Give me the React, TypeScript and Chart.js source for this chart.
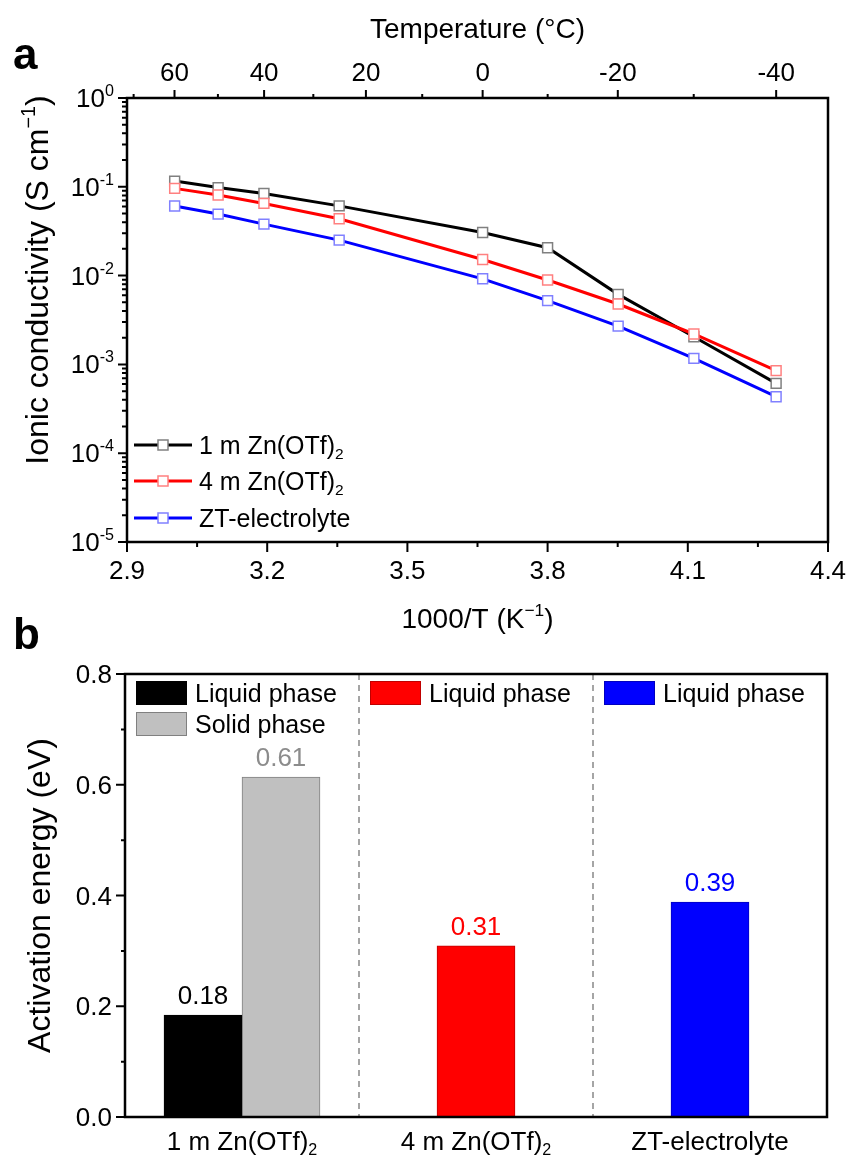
import React, { useEffect, useRef } from "react";
import { Chart, registerables } from "chart.js";
Chart.register(...registerables);

const FONT = '"Liberation Sans", Arial, sans-serif';
const SX = 1; // horizontal text stretch

// ---------- Panel a data ----------
const invT = [3.002, 3.095, 3.193, 3.354, 3.661, 3.8, 3.951, 4.113, 4.289];
const cond1m = [0.116, 0.098, 0.084, 0.061, 0.0306, 0.0206, 0.00615, 0.00205, 0.000612];
const cond4m = [0.096, 0.081, 0.065, 0.0436, 0.0152, 0.00892, 0.00479, 0.0022, 0.00085];
const condZT = [0.0607, 0.0493, 0.038, 0.0251, 0.0092, 0.00522, 0.0027, 0.00117, 0.000433];
const seriesNames = ["1 m Zn(OTf)_{2}", "4 m Zn(OTf)_{2}", "ZT-electrolyte"];
const seriesColors = ["#000000", "#ff0000", "#0000ff"];
const markerColors = ["#808080", "#ff8080", "#8080ff"];
const xTicksA = [2.9, 3.2, 3.5, 3.8, 4.1, 4.4];
const tempMajor = [60, 40, 20, 0, -20, -40];
const tempMinor = [70, 50, 30, 10, -10, -30];
const yExpA = [0, -1, -2, -3, -4, -5];

// ---------- Panel b data ----------
const groups = ["1 m Zn(OTf)_{2}", "4 m Zn(OTf)_{2}", "ZT-electrolyte"];
const liquid1m = [0.184, null, null];
const solid1m = [0.614, null, null];
const liquid4m = [null, 0.309, null];
const liquidZT = [null, null, 0.388];
const barNames = ["Liquid phase", "Solid phase", "Liquid phase", "Liquid phase"];
const barColors = ["#000000", "#c0c0c0", "#ff0000", "#0000ff"];
const barBorders = ["#000000", "#808080", "#c00000", "#0000c0"];
const valueColors = ["#000000", "#8c8c8c", "#ff0000", "#0000ff"];
const yTicksB = [0, 0.2, 0.4, 0.6, 0.8];
const yMinorB = [0.1, 0.3, 0.5, 0.7];

type Seg = { t: string; s?: "sup" | "sub" };
function parseRich(s: string): Seg[] {
  const out: Seg[] = [];
  const re = /([\^_])\{([^}]*)\}/g;
  let last = 0;
  let m: RegExpExecArray | null;
  while ((m = re.exec(s))) {
    if (m.index > last) out.push({ t: s.slice(last, m.index) });
    out.push({ t: m[2], s: m[1] === "^" ? "sup" : "sub" });
    last = re.lastIndex;
  }
  if (last < s.length) out.push({ t: s.slice(last) });
  return out;
}
function drawRich(
  ctx: CanvasRenderingContext2D,
  str: string,
  x: number,
  y: number,
  o: { size: number; color?: string; align?: "left" | "center" | "right"; rotate?: boolean; weight?: string }
) {
  const segs = parseRich(str);
  const weight = o.weight || "normal";
  const fsOf = (g: Seg) => (g.s ? o.size * 0.62 : o.size);
  ctx.save();
  ctx.translate(x, y);
  if (o.rotate) ctx.rotate(-Math.PI / 2);
  ctx.scale(SX, 1);
  let w = 0;
  for (const g of segs) {
    ctx.font = `${weight} ${fsOf(g)}px ${FONT}`;
    w += ctx.measureText(g.t).width;
  }
  const align = o.align || "left";
  let cx = align === "left" ? 0 : align === "center" ? -w / 2 : -w;
  ctx.textAlign = "left";
  ctx.textBaseline = "alphabetic";
  ctx.fillStyle = o.color || "#000";
  for (const g of segs) {
    ctx.font = `${weight} ${fsOf(g)}px ${FONT}`;
    const dy = g.s === "sup" ? -o.size * 0.42 : g.s === "sub" ? o.size * 0.2 : 0;
    ctx.fillText(g.t, cx, dy);
    cx += ctx.measureText(g.t).width;
  }
  ctx.restore();
}

const TICK = 26;
const TITLE = 28;
const YTITLE = 32;
const LEG = 25;

const pluginA = {
  id: "panelA",
  afterDraw(chart: any) {
    const ctx: CanvasRenderingContext2D = chart.ctx;
    const ar = chart.chartArea;
    const sx = chart.scales.x;
    const sx2 = chart.scales.x2;
    const sy = chart.scales.y;
    ctx.save();
    ctx.strokeStyle = "#000";
    ctx.lineWidth = 2;
    ctx.beginPath();
    // bottom ticks
    xTicksA.forEach((v, i) => {
      const px = sx.getPixelForValue(v);
      ctx.moveTo(px, ar.bottom);
      ctx.lineTo(px, ar.bottom + 10);
      if (i < xTicksA.length - 1) {
        const pm = sx.getPixelForValue((v + xTicksA[i + 1]) / 2);
        ctx.moveTo(pm, ar.bottom);
        ctx.lineTo(pm, ar.bottom + 5);
      }
    });
    // top ticks (temperature)
    tempMajor.forEach((t) => {
      const px = sx2.getPixelForValue(1000 / (t + 273.15));
      ctx.moveTo(px, ar.top);
      ctx.lineTo(px, ar.top - 8);
    });
    tempMinor.forEach((t) => {
      const px = sx2.getPixelForValue(1000 / (t + 273.15));
      ctx.moveTo(px, ar.top);
      ctx.lineTo(px, ar.top - 4);
    });
    // left ticks (log)
    yExpA.forEach((k) => {
      const py = sy.getPixelForValue(Math.pow(10, k));
      ctx.moveTo(ar.left, py);
      ctx.lineTo(ar.left - 9, py);
      if (k > -5) {
        for (let m = 2; m <= 9; m++) {
          const pm = sy.getPixelForValue(m * Math.pow(10, k - 1));
          ctx.moveTo(ar.left, pm);
          ctx.lineTo(ar.left - 5, pm);
        }
      }
    });
    ctx.stroke();
    // frame
    ctx.lineWidth = 2.5;
    ctx.strokeRect(ar.left, ar.top, ar.right - ar.left, ar.bottom - ar.top);
    ctx.restore();

    // labels
    xTicksA.forEach((v) => {
      drawRich(ctx, v.toFixed(1), sx.getPixelForValue(v), ar.bottom + 37, { size: TICK, align: "center" });
    });
    tempMajor.forEach((t) => {
      drawRich(ctx, String(t), sx2.getPixelForValue(1000 / (t + 273.15)), ar.top - 17, { size: TICK, align: "center" });
    });
    yExpA.forEach((k) => {
      drawRich(ctx, `10^{${k}}`, ar.left - 13, sy.getPixelForValue(Math.pow(10, k)) + 9, { size: TICK, align: "right" });
    });
    const cxm = (ar.left + ar.right) / 2;
    drawRich(ctx, "Temperature (°C)", cxm, 38, { size: TITLE, align: "center" });
    drawRich(ctx, "1000/T (K^{−1})", cxm, 628, { size: TITLE, align: "center" });
    drawRich(ctx, "Ionic conductivity (S cm^{−1})", 48, (ar.top + ar.bottom) / 2 - 40, { size: YTITLE, align: "center", rotate: true });
    drawRich(ctx, "a", 13, 69, { size: 44, weight: "bold" });

    // legend
    const rows = [445, 481, 518];
    seriesNames.forEach((name, i) => {
      const y = rows[i];
      ctx.save();
      ctx.strokeStyle = seriesColors[i];
      ctx.lineWidth = 3;
      ctx.beginPath();
      ctx.moveTo(134, y);
      ctx.lineTo(192, y);
      ctx.stroke();
      ctx.fillStyle = "#fff";
      ctx.strokeStyle = markerColors[i];
      ctx.lineWidth = 1.5;
      ctx.fillRect(158, y - 5, 10, 10);
      ctx.strokeRect(158, y - 5, 10, 10);
      ctx.restore();
      drawRich(ctx, name, 199, y + 9, { size: LEG });
    });
  },
};

const pluginB = {
  id: "panelB",
  beforeDatasetsDraw(chart: any) {
    const ctx: CanvasRenderingContext2D = chart.ctx;
    const ar = chart.chartArea;
    const sx = chart.scales.x;
    ctx.save();
    ctx.strokeStyle = "#888";
    ctx.lineWidth = 1.5;
    ctx.setLineDash([6, 5]);
    for (let i = 0; i < groups.length - 1; i++) {
      const px = (sx.getPixelForValue(i) + sx.getPixelForValue(i + 1)) / 2;
      ctx.beginPath();
      ctx.moveTo(px, ar.top);
      ctx.lineTo(px, ar.bottom);
      ctx.stroke();
    }
    ctx.restore();
  },
  afterDraw(chart: any) {
    const ctx: CanvasRenderingContext2D = chart.ctx;
    const ar = chart.chartArea;
    const sx = chart.scales.x;
    const sy = chart.scales.y;
    ctx.save();
    ctx.strokeStyle = "#000";
    ctx.lineWidth = 2;
    ctx.beginPath();
    yTicksB.forEach((v) => {
      const py = sy.getPixelForValue(v);
      ctx.moveTo(ar.left, py);
      ctx.lineTo(ar.left - 9, py);
    });
    yMinorB.forEach((v) => {
      const py = sy.getPixelForValue(v);
      ctx.moveTo(ar.left, py);
      ctx.lineTo(ar.left - 4, py);
    });
    ctx.stroke();
    ctx.lineWidth = 2.5;
    ctx.strokeRect(ar.left, ar.top, ar.right - ar.left, ar.bottom - ar.top);
    ctx.restore();

    yTicksB.forEach((v) => {
      drawRich(ctx, v.toFixed(1), ar.left - 13, sy.getPixelForValue(v) + 9, { size: TICK, align: "right" });
    });
    groups.forEach((g, i) => {
      drawRich(ctx, g, sx.getPixelForValue(i), 550, { size: TICK, align: "center" });
    });
    drawRich(ctx, "Activation energy (eV)", 50, (ar.top + ar.bottom) / 2, { size: YTITLE, align: "center", rotate: true });
    drawRich(ctx, "b", 13, 49, { size: 44, weight: "bold" });

    // value labels
    chart.data.datasets.forEach((ds: any, di: number) => {
      const meta = chart.getDatasetMeta(di);
      ds.data.forEach((v: number | null, i: number) => {
        if (v == null) return;
        const el = meta.data[i];
        drawRich(ctx, v.toFixed(2), el.x, el.y - 11, { size: TICK, align: "center", color: valueColors[di] });
      });
    });

    // legends per group
    const half = (sx.getPixelForValue(1) - sx.getPixelForValue(0)) / 2;
    const rowCount = groups.map(() => 0);
    chart.data.datasets.forEach((ds: any, di: number) => {
      const gi = ds.data.findIndex((v: any) => v != null);
      const left = sx.getPixelForValue(gi) - half;
      const yc = ar.top + 19 + rowCount[gi] * 31;
      rowCount[gi]++;
      ctx.save();
      ctx.fillStyle = barColors[di];
      ctx.fillRect(left + 11, yc - 12, 51, 24);
      ctx.strokeStyle = barBorders[di];
      ctx.lineWidth = 1;
      ctx.strokeRect(left + 11.5, yc - 11.5, 50, 23);
      ctx.restore();
      drawRich(ctx, barNames[di], left + 70, yc + 9, { size: LEG });
    });
  },
};

export default function App() {
  const refA = useRef<HTMLCanvasElement>(null);
  const refB = useRef<HTMLCanvasElement>(null);
  useEffect(() => {
    const hidden = { display: false };
    const chartA = new Chart(refA.current!, {
      type: "line",
      data: {
        datasets: [cond1m, cond4m, condZT].map((arr, i) => ({
          label: seriesNames[i],
          data: invT.map((x, j) => ({ x, y: arr[j] })),
          borderColor: seriesColors[i],
          backgroundColor: "#ffffff",
          pointBorderColor: markerColors[i],
          pointBackgroundColor: "#ffffff",
          order: [1, 0, 2][i],
        })),
      },
      options: {
        animation: false,
        responsive: false,
        maintainAspectRatio: false,
        layout: { padding: { left: 0, right: 21, top: 0, bottom: 0 } },
        plugins: { legend: { display: false }, tooltip: { enabled: false } },
        elements: {
          line: { borderWidth: 3, tension: 0 },
          point: { pointStyle: "rect", radius: 7, borderWidth: 1.5 },
        },
        scales: {
          x: {
            type: "linear", position: "bottom", min: 2.9, max: 4.4,
            grid: hidden, border: hidden, ticks: hidden,
            afterFit: (s: any) => { s.height = 118; },
          },
          x2: {
            type: "linear", position: "top", min: 2.9, max: 4.4,
            grid: hidden, border: hidden, ticks: hidden,
            afterFit: (s: any) => { s.height = 98; },
          },
          y: {
            type: "logarithmic", min: 1e-5, max: 1,
            grid: hidden, border: hidden, ticks: hidden,
            afterFit: (s: any) => { s.width = 127; },
          },
        },
      } as any,
      plugins: [pluginA],
    });

    const chartB = new Chart(refB.current!, {
      type: "bar",
      data: {
        labels: groups,
        datasets: [liquid1m, solid1m, liquid4m, liquidZT].map((arr, i) => ({
          label: barNames[i],
          data: arr,
          backgroundColor: barColors[i],
          borderColor: barBorders[i],
          borderWidth: 1,
          skipNull: true,
          barThickness: 78,
        })),
      },
      options: {
        animation: false,
        responsive: false,
        maintainAspectRatio: false,
        layout: { padding: { left: 0, right: 22, top: 74, bottom: 0 } },
        plugins: { legend: { display: false }, tooltip: { enabled: false } },
        scales: {
          x: {
            type: "category",
            grid: hidden, border: hidden, ticks: hidden,
            afterFit: (s: any) => { s.height = 45; },
          },
          y: {
            type: "linear", min: 0, max: 0.8,
            grid: hidden, border: hidden, ticks: hidden,
            afterFit: (s: any) => { s.width = 125; },
          },
        },
      } as any,
      plugins: [pluginB],
    });
    return () => {
      chartA.destroy();
      chartB.destroy();
    };
  }, []);
  return (
    <div style={{ position: "absolute", left: 0, top: 0, width: 849, height: 1162, background: "#fff", overflow: "hidden" }}>
      <canvas ref={refA} width={849} height={660} style={{ position: "absolute", left: 0, top: 0, width: 849, height: 660 }} />
      <canvas ref={refB} width={849} height={562} style={{ position: "absolute", left: 0, top: 600, width: 849, height: 562 }} />
    </div>
  );
}
